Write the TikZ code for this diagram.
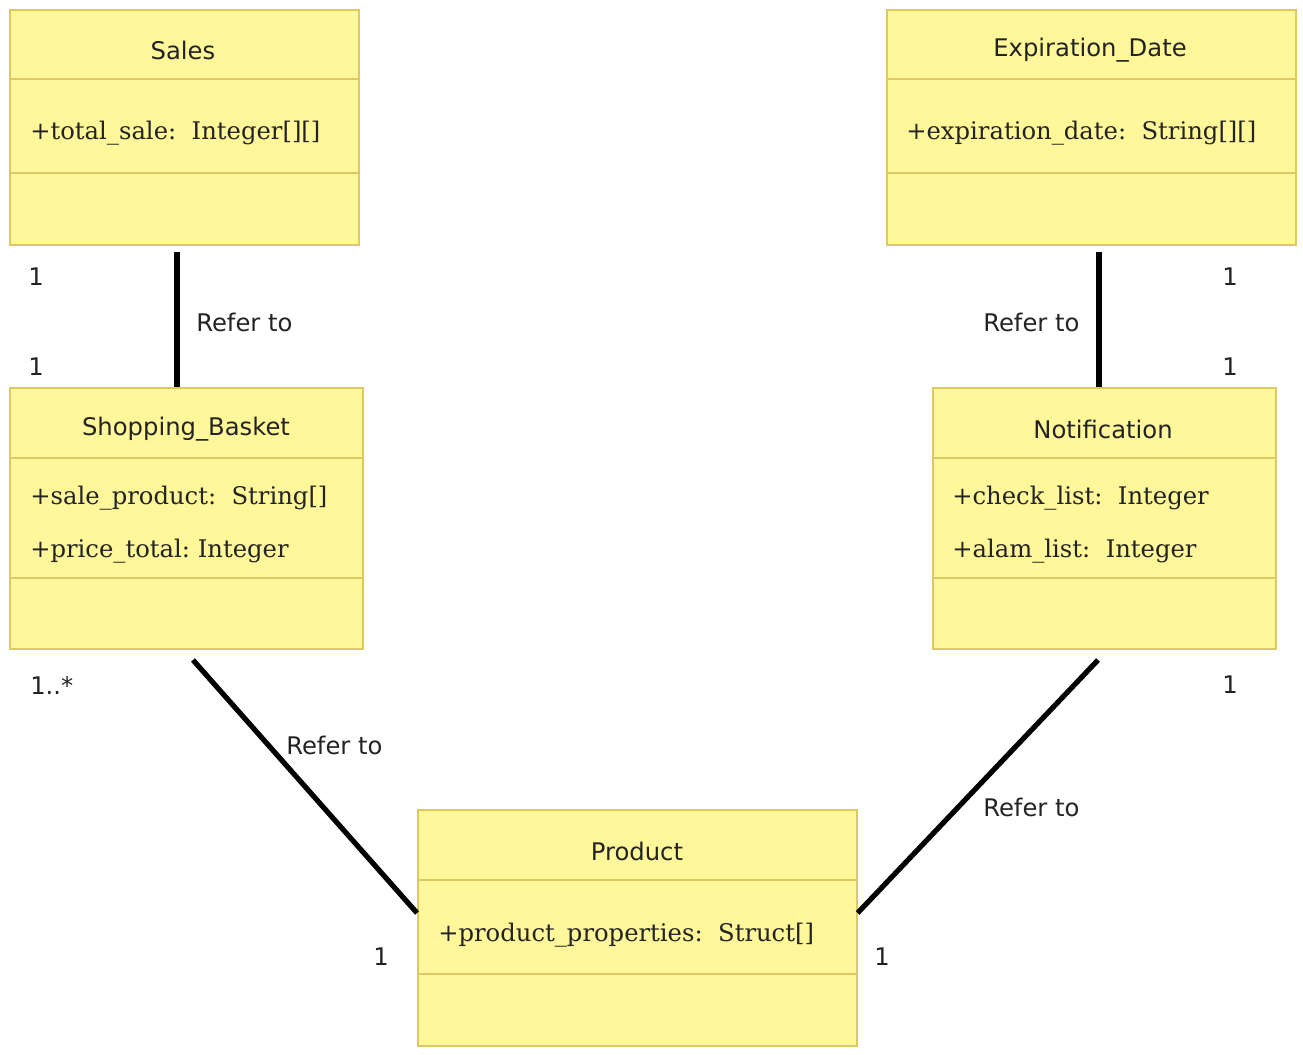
\documentclass[tikz,border=0pt]{standalone}
\usepackage{fontspec}
\setmainfont{DejaVu Sans}
\newfontfamily\attrfont{DejaVu Serif}
\usetikzlibrary{positioning}
\definecolor{classfill}{RGB}{255,247,153}
\definecolor{classline}{RGB}{222,200,100}
\definecolor{inkgray}{RGB}{35,35,35}

\begin{document}
\begin{tikzpicture}[x=0.75pt,y=0.75pt,yscale=-1,xscale=1,
  classbox/.style 2 args={draw=classline,fill=classfill,line width=1.2pt,inner sep=0pt,anchor=north west,minimum width=#1*0.75pt,minimum height=#2*0.75pt},
  classtitle/.style={font=\fontsize{18.2}{21}\selectfont,text=inkgray,inner sep=0pt},
  classattr/.style={font=\attrfont\fontsize{18.2}{21}\selectfont,text=inkgray,inner sep=0pt,anchor=west},
  mult/.style={font=\fontsize{18.2}{21}\selectfont,text=inkgray,inner sep=0pt},
  reflabel/.style={font=\fontsize{18.2}{21}\selectfont,text=inkgray,inner sep=0pt,anchor=west},
  divider/.style={draw=classline,line width=1.2pt},
  link/.style={line width=3.9pt}]
\useasboundingbox (0,0) rectangle (1303,1054);

%Shape: Class boxes
\node [classbox={349}{235}] (sales) at (9,9) {};
\node [classbox={409}{235}] (expiry) at (886,9) {};
\node [classbox={353}{261}] (basket) at (9,387) {};
\node [classbox={343}{261}] (notif) at (932,387) {};
\node [classbox={439}{236}] (product) at (417,809) {};

%Straight Lines: compartments
\draw [divider] (sales.west |- 0,79) -- (sales.east |- 0,79) ;
\draw [divider] (sales.west |- 0,173) -- (sales.east |- 0,173) ;
\draw [divider] (expiry.west |- 0,79) -- (expiry.east |- 0,79) ;
\draw [divider] (expiry.west |- 0,173) -- (expiry.east |- 0,173) ;
\draw [divider] (basket.west |- 0,458) -- (basket.east |- 0,458) ;
\draw [divider] (basket.west |- 0,578) -- (basket.east |- 0,578) ;
\draw [divider] (notif.west |- 0,458) -- (notif.east |- 0,458) ;
\draw [divider] (notif.west |- 0,578) -- (notif.east |- 0,578) ;
\draw [divider] (product.west |- 0,880) -- (product.east |- 0,880) ;
\draw [divider] (product.west |- 0,974) -- (product.east |- 0,974) ;

%Text: class names
\node [classtitle] (salesTitle) at (183,50) {Sales};
\node [classtitle] (expiryTitle) at (1090,50) {Expiration\_Date};
\node [classtitle] (basketTitle) at (186,429) {Shopping\_Basket};
\node [classtitle] (notifTitle) at (1103,429) {Notification};
\node [classtitle] (productTitle) at (637,851) {Product};

%Text: attributes
\node [classattr] (salesAttr) at (30,133) {+total\_sale:\ \ Integer[][]};
\node [classattr] (expiryAttr) at (906,133) {+expiration\_date:\ \ String[][]};
\node [classattr] (basketAttrA) at (30,498) {+sale\_product:\ \ String[]};
\node [classattr] (basketAttrB) at (30,551) {+price\_total:\ Integer};
\node [classattr] (notifAttrA) at (952,498) {+check\_list:\ \ Integer};
\node [classattr] (notifAttrB) at (952,551) {+alam\_list:\ \ Integer};
\node [classattr] (productAttr) at (438,935) {+product\_properties:\ \ Struct[]};

%Straight Lines: associations
\coordinate (salesEnd) at (177,252);
\draw [link] (salesEnd) -- (salesEnd |- basket.north) ;
\coordinate (expiryEnd) at (1099,252);
\draw [link] (expiryEnd) -- (expiryEnd |- notif.north) ;
\coordinate (basketEnd) at (193,660);
\draw [link] (basketEnd) -- (product.west |- 0,913) ;
\coordinate (notifEnd) at (1098,660);
\draw [link] (notifEnd) -- (product.east |- 0,913) ;

%Text: multiplicities and roles
\node [mult] (salesMult) at (36,277) {1};
\node [mult] (basketMultA) at (36,367) {1};
\node [reflabel] (referA) at (196,322) {Refer to};
\node [mult] (expiryMult) at (1230,277) {1};
\node [mult] (notifMultA) at (1230,367) {1};
\node [reflabel] (referB) at (983,322) {Refer to};
\node [mult, anchor=west] (basketMultB) at (30,685) {1..*};
\node [reflabel] (referC) at (286,745) {Refer to};
\node [mult] (notifMultB) at (1230,685) {1};
\node [reflabel] (referD) at (983,807) {Refer to};
\node [mult] (productMultA) at (381,957) {1};
\node [mult] (productMultB) at (882,957) {1};

\end{tikzpicture}
\end{document}
